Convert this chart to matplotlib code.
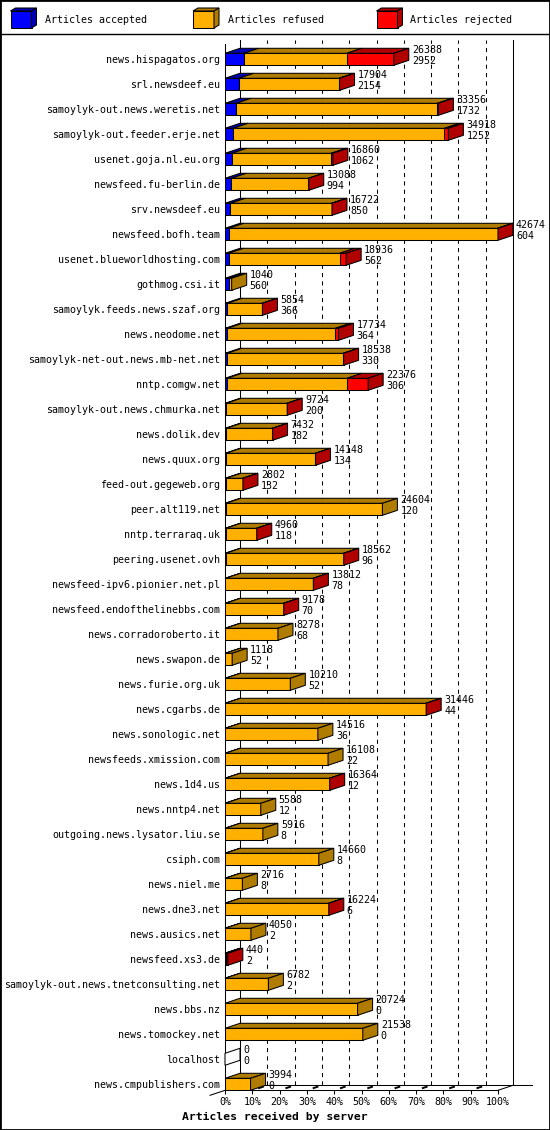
import matplotlib
matplotlib.use('Agg')
import matplotlib.pyplot as plt
from matplotlib.patches import Polygon, Rectangle
from matplotlib.lines import Line2D

servers = ['news.hispagatos.org', 'srl.newsdeef.eu', 'samoylyk-out.news.weretis.net',
           'samoylyk-out.feeder.erje.net', 'usenet.goja.nl.eu.org', 'newsfeed.fu-berlin.de',
           'srv.newsdeef.eu', 'newsfeed.bofh.team', 'usenet.blueworldhosting.com',
           'gothmog.csi.it', 'samoylyk.feeds.news.szaf.org', 'news.neodome.net',
           'samoylyk-net-out.news.mb-net.net', 'nntp.comgw.net', 'samoylyk-out.news.chmurka.net',
           'news.dolik.dev', 'news.quux.org', 'feed-out.gegeweb.org', 'peer.alt119.net',
           'nntp.terraraq.uk', 'peering.usenet.ovh', 'newsfeed-ipv6.pionier.net.pl',
           'newsfeed.endofthelinebbs.com', 'news.corradoroberto.it', 'news.swapon.de',
           'news.furie.org.uk', 'news.cgarbs.de', 'news.sonologic.net', 'newsfeeds.xmission.com',
           'news.1d4.us', 'news.nntp4.net', 'outgoing.news.lysator.liu.se', 'csiph.com',
           'news.niel.me', 'news.dne3.net', 'news.ausics.net', 'newsfeed.xs3.de',
           'samoylyk-out.news.tnetconsulting.net', 'news.bbs.nz', 'news.tomockey.net',
           'localhost', 'news.cmpublishers.com']

total = [26388, 17904, 33356, 34918, 16860, 13088, 16722, 42674, 18936, 1040, 5854, 17734,
         18538, 22376, 9724, 7432, 14148, 2802, 24604, 4960, 18562, 13812, 9178, 8278, 1118,
         10210, 31446, 14516, 16108, 16364, 5588, 5916, 14660, 2716, 16224, 4050, 440, 6782,
         20724, 21538, 0, 3994]
accepted = [2952, 2154, 1732, 1252, 1062, 994, 850, 604, 562, 560, 366, 364, 330, 306, 200,
            182, 134, 132, 120, 118, 96, 78, 70, 68, 52, 52, 44, 36, 22, 12, 12, 8, 8, 8, 6,
            2, 2, 2, 0, 0, 0, 0]
# estimated from the red widths
rejected = [7350, 80, 150, 620, 260, 40, 40, 40, 990, 0, 30, 470, 60, 3300, 30, 20, 20, 20,
            0, 20, 30, 20, 20, 0, 0, 0, 20, 0, 0, 20, 0, 0, 0, 0, 20, 0, 300, 0, 0, 0, 0, 0]
refused = [16086, 15670, 31474, 33046, 15538, 12054, 15832, 42030, 17384, 480, 5458, 16900,
           18148, 18770, 9494, 7230, 13994, 2650, 24484, 4822, 18436, 13714, 9088, 8210, 1066,
           10158, 31382, 14480, 16086, 16332, 5576, 5908, 14652, 2708, 16198, 4048, 138, 6780,
           20724, 21538, 0, 3994]

legend_names = ['Articles accepted', 'Articles refused', 'Articles rejected']
front = ['#0000ff', '#ffb000', '#ff0000']
dark = ['#0000b0', '#b07c00', '#b00000']

plt.rcParams['font.family'] = 'DejaVu Sans Mono'
W, H = 550, 1130
fig = plt.figure(figsize=(5.5, 11.3), dpi=100)


def fx(px):
    return px / W


def fy(py):
    return 1 - py / H


row0, pitch = 59.3, 25.0
ax = fig.add_axes([fx(225), fy(1090), fx(498) - fx(225), fy(35) - fy(1090)])
ax.set_xlim(0, 100)
ax.set_ylim((1090 - row0) / pitch, (35 - row0) / pitch)

n = len(servers)
scale = 100.0 / max(total)
dx = 15 / 2.73          # depth, in percent
dy = -5 / pitch         # depth, in rows
bh = 12 / pitch
floor = n - 1 + bh / 2
toprow = (40 - row0) / pitch
lw = 0.75

# back walls and grid
for k in range(1, 10):
    ax.plot([k * 10 + dx] * 2, [floor + dy, toprow], color='black', lw=lw,
            ls=(0, (4, 4)), zorder=1, clip_on=False)
for xv in (dx, 100 + dx):
    ax.plot([xv, xv], [floor + dy, toprow], color='black', lw=lw, zorder=1, clip_on=False)
ax.plot([dx, (532 - 225) / 2.73], [floor + dy] * 2, color='black', lw=lw, clip_on=False)
ax.plot([-dx, dx], [floor - dy, floor + dy], color='black', lw=lw, clip_on=False)
ax.plot([100, 100 + dx], [floor, floor + dy], color='black', lw=lw, clip_on=False)
for k in range(1, 10):
    ax.plot([k * 10 + 0.45 * dx, k * 10 + 0.7 * dx], [floor + 0.45 * dy, floor + 0.7 * dy],
            color='black', lw=1.4, clip_on=False)

# bars
for i in range(n):
    segs = [accepted[i], refused[i], rejected[i]]
    top = i - bh / 2
    left = 0.0
    last = None
    for k, v in enumerate(segs):
        if v <= 0:
            continue
        w = v * scale
        ax.barh(i, w, left=left, height=bh, color=front[k], edgecolor='black',
                linewidth=lw, zorder=3)
        ax.add_patch(Polygon([(left, top), (left + w, top), (left + w + dx, top + dy),
                              (left + dx, top + dy)], closed=True, fc=dark[k], ec='black',
                             lw=lw, zorder=3, clip_on=False))
        left += w
        last = k
    side = dark[last] if last is not None else 'white'
    ax.add_patch(Polygon([(left, top), (left + dx, top + dy), (left + dx, top + bh + dy),
                          (left, top + bh)], closed=True, fc=side, ec='black', lw=lw,
                         zorder=3, clip_on=False))
    tx = left + dx + 3 / 2.73
    ax.text(tx, i - 0.37, str(total[i]), ha='left', va='center', fontsize=7.2,
            zorder=5, clip_on=False)
    ax.text(tx, i + 0.06, str(accepted[i]), ha='left', va='center', fontsize=7.2,
            zorder=5, clip_on=False)

ax.set_yticks(range(n))
ax.set_yticklabels(servers, fontsize=7.2)
ax.tick_params(axis='y', length=0, pad=3.6)
ax.set_xticks(range(0, 101, 10))
ax.set_xticklabels([f'{v}%' for v in range(0, 101, 10)], fontsize=7.2)
ax.tick_params(axis='x', length=3, width=lw, pad=1.8, direction='out')
ax.spines['top'].set_visible(False)
ax.spines['right'].set_visible(False)
ax.spines['left'].set_linewidth(lw)
ax.spines['bottom'].set_linewidth(lw)
ax.spines['left'].set_bounds(floor, (44 - row0) / pitch)
ax.patch.set_visible(False)

fig.text(0.5, fy(1117), 'Articles received by server', ha='center', va='center',
         fontsize=8.2, fontweight='bold')

# header legend
hax = fig.add_axes([0, fy(34), 1, 34 / H])
hax.set_xlim(0, W)
hax.set_ylim(34, 0)
hax.axis('off')
for cx, tx, k in [(10.5, 44.6, 0), (193, 228, 1), (376.5, 410.5, 2)]:
    hax.add_patch(Rectangle((cx, 11), 21, 17, fc=front[k], ec='black', lw=lw))
    hax.add_patch(Polygon([(cx, 11), (cx + 21, 11), (cx + 26, 8), (cx + 5, 8)],
                          fc=dark[k], ec='black', lw=lw))
    hax.add_patch(Polygon([(cx + 21, 11), (cx + 26, 8), (cx + 26, 25), (cx + 21, 28)],
                          fc=dark[k], ec='black', lw=lw))
    hax.text(tx, 20, legend_names[k], ha='left', va='center', fontsize=7.2)

fig.add_artist(Line2D([0, 1], [fy(34), fy(34)], transform=fig.transFigure,
                      color='black', lw=1))
fig.add_artist(Rectangle((0, 0), 1, 1, transform=fig.transFigure, fill=False,
                         ec='black', lw=2))

fig.savefig('out.png', dpi=100)
